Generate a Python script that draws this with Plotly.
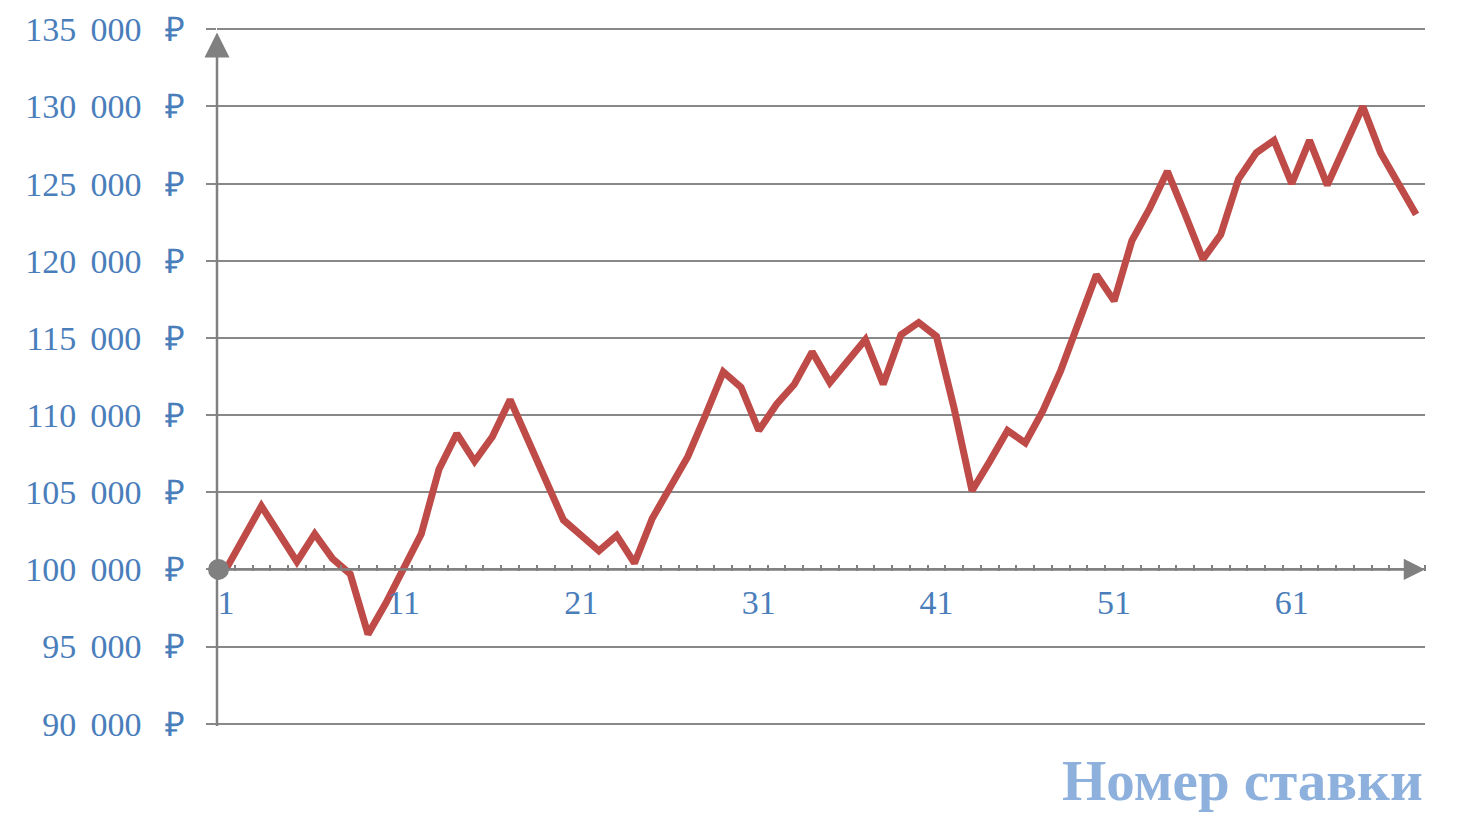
import plotly.graph_objects as go

# balance after each bet
bets = list(range(1, 69))
balance = [
    100000, 102100, 104100, 102300, 100500, 102300, 100700, 99700, 95800, 97800,
    100000, 102300, 106500, 108800, 107000, 108600, 111000, 108400, 106000, 103200,
    102200, 101200, 102200, 100400, 103300, 105200, 107300, 110000, 112800, 111800,
    109000, 110700, 112000, 114100, 112100, 113500, 114900, 112000, 115200, 116000,
    115100, 110400, 105100, 107000, 109000, 108200, 110300, 112900, 116000, 119100,
    117400, 121300, 123400, 125800, 123000, 120100, 121700, 125300, 127000, 127800,
    125000, 127800, 124900, 127400, 130000, 127000, 125100, 123000,
]

y_ticks = list(range(90000, 135001, 5000))
y_labels = [f"{v:,}".replace(",", "\u2004\u200a") + "\u2002\u2009₽" for v in y_ticks]
x_ticks = [1, 11, 21, 31, 41, 51, 61]
x_title = "Номер ставки"

y_min, y_max = 90000, 135000
start_balance = 100000
cross_pos = (start_balance - y_min) / (y_max - y_min)
x_lo, x_hi = 0.5, len(bets) + 0.5

serif = "Liberation Serif, Times New Roman, serif"
label_blue = "#4A7EBB"
gray = "#808080"

fig = go.Figure()

fig.add_trace(go.Scatter(
    x=bets, y=balance, mode="lines",
    line=dict(color="#BE4B48", width=7),
    hoverinfo="skip", showlegend=False
))

fig.update_layout(
    width=1460, height=825,
    margin=dict(l=217, r=35, t=27, b=99, autoexpand=False),
    paper_bgcolor="white", plot_bgcolor="white",
    showlegend=False,
    xaxis=dict(
        range=[x_lo, x_hi], anchor="free", position=cross_pos,
        showline=False, showgrid=False, zeroline=False,
        tickmode="array", tickvals=x_ticks, ticktext=[str(v) for v in x_ticks],
        ticks="", ticklabelstandoff=8,
        tickfont=dict(family=serif, size=34, color=label_blue),
        minor=dict(tickmode="linear", tick0=0.5, dtick=1, ticks="inside",
                   ticklen=6, tickwidth=2, tickcolor=gray, showgrid=False),
    ),
    xaxis2=dict(
        overlaying="x", range=[x_lo, x_hi], anchor="free", position=cross_pos,
        showline=False, showgrid=False, zeroline=False, showticklabels=False,
        tickmode="linear", tick0=0.5, dtick=1, ticks="outside",
        ticklen=6, tickwidth=2, tickcolor=gray,
    ),
    yaxis=dict(
        # padded a little so the 90 000 and 135 000 gridlines are drawn
        range=[y_min - 150, y_max + 150], tickmode="array", tickvals=y_ticks, ticktext=y_labels,
        showgrid=True, gridcolor="#888888", gridwidth=2,
        zeroline=False, showline=False,
        ticks="outside", ticklen=10, tickwidth=2, tickcolor="#888888",
        ticklabelstandoff=14,
        tickfont=dict(family=serif, size=34, color=label_blue),
    ),
)

# vertical axis with arrow
fig.add_annotation(
    x=x_lo, y=y_max - 200, ax=x_lo, ay=y_min - 250,
    xref="x", yref="y", axref="x", ayref="y",
    text="", showarrow=True, arrowhead=2, arrowsize=2,
    arrowwidth=2.5, arrowcolor=gray
)

# horizontal axis at the starting balance, dot at origin
fig.add_annotation(
    x=x_hi, y=start_balance, ax=x_lo, ay=start_balance,
    xref="x", yref="y", axref="x", ayref="y",
    text="", showarrow=True, arrowside="end+start",
    arrowhead=2, arrowsize=1.7, startarrowhead=6, startarrowsize=2.1,
    arrowwidth=2.5, arrowcolor=gray
)

fig.add_annotation(
    x=1, y=-(780 - 726) / 699, xref="paper", yref="paper",
    xanchor="right", yanchor="middle", showarrow=False,
    text=f"<b>{x_title}</b>",
    font=dict(family=serif, size=57, color="#8EB0DD")
)

fig.write_html("out.html", config={"displayModeBar": False},
               post_script="document.body.style.margin = '0';")
